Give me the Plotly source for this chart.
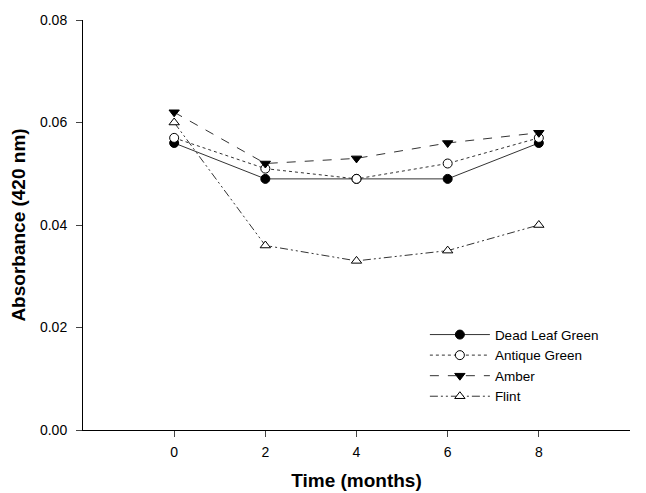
import plotly.graph_objects as go

months = [0, 2, 4, 6, 8]
dead_leaf_green = [0.056, 0.049, 0.049, 0.049, 0.056]
antique_green = [0.057, 0.051, 0.049, 0.052, 0.057]
amber = [0.062, 0.052, 0.053, 0.056, 0.058]
flint = [0.060, 0.036, 0.033, 0.035, 0.040]

series = [
    ("Dead Leaf Green", dead_leaf_green, "solid", "circle", "black"),
    ("Antique Green", antique_green, "dot", "circle", "white"),
    ("Amber", amber, "dash", "triangle-down", "black"),
    ("Flint", flint, "8px,3px,2px,3px,2px,3px", "triangle-up", "white"),
]

fig = go.Figure()
for name, vals, dash, sym, fill in series:
    fig.add_trace(go.Scatter(
        x=months, y=vals, name=name, mode="lines+markers",
        line=dict(color="#333333", width=1, dash=dash),
        marker=dict(symbol=sym, size=9, color=fill,
                    line=dict(color="black", width=1)),
    ))

fig.update_layout(
    width=646, height=493,
    margin=dict(l=75, r=24, t=12, b=71),
    plot_bgcolor="white", paper_bgcolor="white",
    font=dict(family="Liberation Sans, Arial, sans-serif", color="black", size=14),
    showlegend=True,
    legend=dict(x=0.625, y=0.27, xanchor="left", yanchor="top",
                bgcolor="rgba(0,0,0,0)", font=dict(size=13.5), itemwidth=60,
                tracegroupgap=0),
)
fig.update_xaxes(range=[-2, 10], tickvals=months, ticks="outside", ticklen=6,
                 showline=True, linecolor="black", linewidth=1, showgrid=False,
                 zeroline=False, mirror=False, automargin=False,
                 tickfont=dict(size=14), ticklabelstandoff=3,
                 title=dict(text="<b>Time (months)</b>", font=dict(size=19), standoff=14))
fig.update_yaxes(range=[0, 0.08], tickvals=[0, 0.02, 0.04, 0.06, 0.08],
                 tickformat=".2f", ticks="outside", ticklen=6, automargin=False,
                 showline=True, linecolor="black", linewidth=1, showgrid=False,
                 zeroline=False, tickfont=dict(size=14), ticklabelstandoff=6,
                 title=dict(text="<b>Absorbance (420 nm)</b>", font=dict(size=19), standoff=13))

fig.write_html("out.html")
